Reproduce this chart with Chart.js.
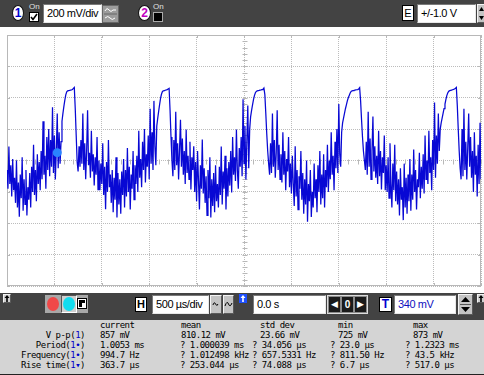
<!DOCTYPE html>
<html>
<head>
<meta charset="utf-8">
<script src="https://cdn.jsdelivr.net/npm/chart.js@4.4.1/dist/chart.umd.min.js"></script>
<style>
  body { margin: 0; width: 484px; height: 375px; overflow: hidden; background: #fff; position: relative; font-family: "Liberation Sans", Arial, sans-serif; }
  .a { position: absolute; box-sizing: border-box; }
  .bar { background: #434343; }
  .inp { background: #fff; border: 1px solid; border-color: #7a7a7a #e8e8e8 #e8e8e8 #7a7a7a; font-size: 11px; letter-spacing: -0.4px; line-height: 17px; padding-left: 3px; white-space: nowrap; color: #000; }
  .btn { background: #c4c4c4; border: 1px solid; border-color: #f4f4f4 #5a5a5a #5a5a5a #f4f4f4; }
  .let { background: #fff; border: 1px solid #000; font-weight: bold; font-size: 11px; text-align: center; line-height: 13px; }
  .circ { background: #fff; border: 1px solid #111; border-radius: 50%; font-weight: bold; font-size: 12px; text-align: center; line-height: 14px; }
  .on { color: #e0e0e0; font-size: 8px; line-height: 8px; }
  #meas { font-family: "DejaVu Sans Mono", monospace; font-size: 9px; letter-spacing: -0.5px; line-height: 10px; color: #000; background: #d4d4d4; border-bottom: 1px solid #222; }
  #meas div { position: absolute; white-space: nowrap; }
  #meas b { color: #0000c8; font-weight: normal; }
  #wrap { position: absolute; left: 0; top: 0; width: 484px; height: 375px; }
</style>
</head>
<body>
<div id="wrap"><canvas id="scope"></canvas></div>

<!-- top bar -->
<div class="a bar" style="left:0;top:0;width:484px;height:27px"></div>
<div class="a circ" style="left:12px;top:5px;width:12px;height:16px;color:#0000d0">1</div>
<div class="a on" style="left:29px;top:3px">On</div>
<div class="a" style="left:29px;top:12px;width:10px;height:10px;background:#fff;border:1px solid #000">
  <svg width="8" height="8" style="display:block"><path d="M1 4 L3 6.5 L7 1" stroke="#000" stroke-width="1.6" fill="none"/></svg>
</div>
<div class="a inp" style="left:43px;top:4px;width:59px;height:19px">200 mV/div</div>
<div class="a" style="left:102px;top:5px;width:17px;height:18px;background:#9c9c9c;border:1px solid #666">
  <svg width="15" height="16" style="display:block"><path d="M2 5 Q4 1 6 4 T10 4 L13 4" stroke="#fff" fill="none"/><line x1="1" y1="8" x2="14" y2="8" stroke="#666"/><path d="M2 12 Q5 9 7 12 T12 12" stroke="#fff" fill="none"/></svg>
</div>
<div class="a circ" style="left:138px;top:5px;width:13px;height:16px;color:#c000c0">2</div>
<div class="a on" style="left:153px;top:3px">On</div>
<div class="a" style="left:153px;top:12px;width:10px;height:10px;background:#000;border:1px solid #aaa"></div>
<div class="a let" style="left:402px;top:5px;width:12px;height:16px;font-weight:normal;line-height:14px">E</div>
<div class="a inp" style="left:417px;top:4px;width:59px;height:19px">+/-1.0 V</div>
<div class="a btn" style="left:477px;top:4px;width:9px;height:19px">
  <svg width="7" height="17" style="display:block"><path d="M1 6 L3.5 2 L6 6 Z M1 11 L3.5 15 L6 11 Z" fill="#000"/></svg>
</div>

<!-- bottom toolbar -->
<div class="a bar" style="left:0;top:293px;width:484px;height:27px"></div>
<div class="a btn" style="left:3px;top:294px;width:8px;height:9px;background:#d0d0d0">
  <svg width="6" height="7" style="display:block"><path d="M3 0 L5.5 3 L3.8 3 L3.8 7 L2.2 7 L2.2 3 L0.5 3 Z" fill="#000"/></svg>
</div>
<div class="a" style="left:45px;top:295px;width:43px;height:18px;background:#a8a8a8"></div>
<div class="a" style="left:47px;top:297px;width:12px;height:14px;border-radius:50%;background:#f04848"></div>
<div class="a" style="left:61px;top:295px;width:16px;height:18px;background:#cfcfcf;border:1px solid;border-color:#555 #fff #fff #555"></div>
<div class="a" style="left:63px;top:297px;width:12px;height:14px;border-radius:50%;background:#12dcef"></div>
<div class="a" style="left:77px;top:298px;width:10px;height:11px;background:#fff;border:1px solid #000">
  <svg width="8" height="9" style="display:block"><path d="M1 1 L7 1 L7 4 L4 4 L4 8 L1 8 Z" fill="#000"/></svg>
</div>
<div class="a let" style="left:135px;top:297px;width:12px;height:15px">H</div>
<div class="a inp" style="left:152px;top:295px;width:57px;height:19px">500 µs/div</div>
<div class="a btn" style="left:210px;top:295px;width:12px;height:19px">
  <svg width="10" height="17" style="display:block"><path d="M2 9 Q3 5 4.5 8 T7 8" stroke="#000" fill="none"/></svg>
</div>
<div class="a btn" style="left:223px;top:295px;width:11px;height:19px">
  <svg width="9" height="17" style="display:block"><path d="M1 10 Q3 4 4.5 8 T8 7" stroke="#000" fill="none"/></svg>
</div>
<div class="a" style="left:239px;top:294px;width:8px;height:9px;background:#1e50ff">
  <svg width="8" height="9" style="display:block"><path d="M4 1 L6.5 4 L4.8 4 L4.8 8 L3.2 8 L3.2 4 L1.5 4 Z" fill="#fff"/></svg>
</div>
<div class="a inp" style="left:253px;top:295px;width:73px;height:19px">0.0 s</div>
<div class="a" style="left:327px;top:295px;width:41px;height:19px;background:#8a8a8a;border:1px solid #ddd"></div>
<div class="a" style="left:329px;top:297px;width:11px;height:15px;background:#1a1a1a;color:#fff;font-size:9px;text-align:center;line-height:15px">◀</div>
<div class="a" style="left:342px;top:297px;width:11px;height:15px;background:#1a1a1a;color:#fff;font-size:10px;font-weight:bold;text-align:center;line-height:15px">0</div>
<div class="a" style="left:355px;top:297px;width:11px;height:15px;background:#1a1a1a;color:#fff;font-size:9px;text-align:center;line-height:15px">▶</div>
<div class="a let" style="left:379px;top:297px;width:13px;height:15px;color:#0000d0;font-size:12px">T</div>
<div class="a inp" style="left:394px;top:295px;width:62px;height:19px;color:#1010c0">340 mV</div>
<div class="a btn" style="left:458px;top:294px;width:15px;height:21px">
  <svg width="13" height="19" style="display:block"><path d="M2 7 L6.5 2 L11 7 Z M2 12 L6.5 17 L11 12 Z" fill="#000"/><line x1="1" y1="9.5" x2="12" y2="9.5" stroke="#555"/></svg>
</div>
<div class="a btn" style="left:477px;top:294px;width:8px;height:9px;background:#d0d0d0">
  <svg width="6" height="7" style="display:block"><path d="M3 0 L5.5 3 L3.8 3 L3.8 7 L2.2 7 L2.2 3 L0.5 3 Z" fill="#000"/></svg>
</div>

<!-- measurements -->
<div id="meas" class="a" style="left:0;top:320px;width:484px;height:55px"></div>

<script>
// === DATA ===
// channel 1 trace, one sample every 10 µs from -2.5 ms (mV)
const sampleStartMs = -2.5;
const sampleStepMs = 0.01;
const traceMv = [
  // noise before first bump
  -60, -180, 89, -150, -30, -230, 10, -190,
  -110, -270, 0, -300, -140, -358, -90, -240, 20, -320, -120, -280, -60, -350, -170, -250, -80,
  -300, -40, -200, 100, -220, -60, -260, 40, -150, -10, -190,
  60, -120, 250, -90, 30, -180, 150, -60, 200, -100,
  130, -40, 340, -80, 160, -121, 60, 300, -50, 180, -20, 120,
  // bump 1
  250, 300, 345, 385, 418, 438, 444, 446, 447, 449, 450, 452, 460, 466, 330, 160, -10, -70,
  // noise
  90, -40, 130, -20, 300, -60, 110, -120, 60, 320, -30,
  50, -110, 190, -70, 40, -160, 20, -90, 150, -185, 0,
  -190, -20, -150, 110, -220, -40, -310, -10, -200, 130, -170,
  -90, -270, -60, -330, -110, -250, 20, -364, -80, -280, -120, -340, -70, -220, 10, -300,
  -60, -230, 80, -200, -40, -313, -90, -180, 60, -250, -30,
  -150, 30, -200, 190, -110, 10, -170, 120, -60, 200, -140,
  40, -40, 160, -120, 330, -20, 180, -60, 380, 90, -30, 220,
  // bump 2
  270, 315, 358, 398, 424, 440, 444, 446, 448, 450, 452, 456, 460, 320, 150, 0, -100,
  // noise
  130, -60, 310, -30, 110, -121, 70, 260, -40, 140, -90,
  60, -150, 198, -80, 30, -120, 120, -185, 20, -60, 90,
  -200, -10, -260, 60, -130, -313, -30, -180, 134, -210, -50,
  -270, -100, -350, -60, -240, 20, -364, -120, -290, -80, -330, -30, -260, -150, -300,
  -40, -220, 89, -280, -70, -180, 30, -313, -50, -230, -10,
  -160, 60, -204, 150, -90, 20, -130, 198, -60, -180, 80,
  -40, 150, -100, 390, -20, 220, -121, 120, 350, -50, 200,
  // bump 3
  280, 320, 355, 388, 414, 432, 440, 444, 446, 447, 449, 450, 452, 455, 462, 420, 300, 170, 60, -20, -90,
  // noise
  110, -80, 300, -40, 130, -110, 50, 320, -60, 100, -121,
  40, -140, 180, -90, 60, -190, 10, -70, 150, -170, -20,
  -210, 30, -150, -290, 90, -230, -60, -313, -100, -180, 60,
  -250, -80, -340, -120, -280, 0, -390, -150, -260, -60, -360, -200, -300, -20, -240,
  -120, -330, -30, -200, 60, -280, -90, -240, 40, -300, -60,
  -170, 100, -200, 0, -120, 180, -90, 30, -190, 120, -50,
  200, -80, 360, 40, -40, 180,
  // bump 4
  240, 270, 300, 330, 355, 380, 400, 415, 430, 440, 444, 446, 447, 449, 450, 451, 452, 456, 464, 380, 260, 150, 60, 0, -60,
  // noise
  120, -90, 310, -40, 140, -121, 60, 280, -70, 90, -110,
  30, -150, 190, -100, 60, -185, 20, -80, 160, -190, -30,
  -200, 20, -240, 110, -150, -300, -20, -190, 100, -260, -70,
  -280, -120, -350, -50, -250, -170, -380, -20, -300, -110, -340, -90, -260, 10, -320,
  -90, -250, 70, -200, -60, -313, -120, -170, 50, -240, -40,
  -180, 40, -210, 160, -120, 0, -150, 190, -80, 20, -190,
  130, -60, 370, -110, 160, -20, 300, 60, 200,
  // bump 5
  240, 270, 300, 330, 360, 390, 415, 432, 441, 445, 447, 449, 451, 453, 456, 460, 466, 350, 200, 60, -50, -120,
  // noise to the right edge
  200, -100, 330, -60, 120, -121, 80, 300, -40, 150, -110,
  60, -200, 180, -90, 30, -230, 100, -150, 240, -120
];

// cursor marker on the trace
const markerMs = [-1.97];
const markerMv = [50];

// screen: 10 x 500 µs/div, 8 x 200 mV/div
const timeMinMs = -2.5, timeMaxMs = 2.5, timeDivMs = 0.5;
const voltMinMv = -800, voltMaxMv = 800, voltDivMv = 200;

// measurement table
const measCols = ["current", "mean", "std dev", "min", "max"];
const measNames = ["V p-p", "Period", "Frequency", "Rise time"];
const measMarks = ["", "•", "•", "▾"];
const measCurrent = ["857 mV", "1.0053 ms", "994.7 Hz", "363.7 µs"];
const measMean = ["810.12 mV", "? 1.000039 ms", "? 1.012498 kHz", "? 253.044 µs"];
const measStd = ["23.66 mV", "? 34.056 µs", "? 657.5331 Hz", "? 74.088 µs"];
const measMin = ["725 mV", "? 23.0 µs", "? 811.50 Hz", "? 6.7 µs"];
const measMax = ["873 mV", "? 1.2323 ms", "? 43.5 kHz", "? 517.0 µs"];

// === measurement panel ===
const meas = document.getElementById("meas");
const colX = [100, 181, 260, 338, 413];
const qColX = [100, 180, 252, 330, 405];

function cell(x, row, html, right) {
  const d = document.createElement("div");
  d.style.top = (row * 10) + "px";
  if (right) d.style.right = (484 - x) + "px";
  else d.style.left = x + "px";
  d.innerHTML = html;
  meas.appendChild(d);
}

measCols.forEach((c, i) => cell(colX[i], 0, c));
measNames.forEach((n, r) => {
  cell(85, r + 1, `${n}(<b>1${measMarks[r]}</b>)`, true);
  [measCurrent, measMean, measStd, measMin, measMax].forEach((col, i) => {
    const txt = col[r];
    cell(txt.startsWith("?") ? qColX[i] : colX[i], r + 1, txt);
  });
});

// === scope screen decorations ===
const screenFrame = {
  id: "screenFrame",
  beforeDatasetsDraw(chart) {
    const { ctx, chartArea: a, scales: { x, y } } = chart;
    ctx.save();
    ctx.strokeStyle = "#b8b8b8";
    ctx.lineWidth = 1;
    ctx.strokeRect(a.left + 0.5, a.top + 0.5, a.right - a.left - 1, a.bottom - a.top - 1);

    const cx = Math.round(x.getPixelForValue(0)) + 0.5;
    const cy = Math.round(y.getPixelForValue(0)) + 0.5;
    ctx.beginPath();
    for (let k = 0; k <= 50; k++) {
      const px = Math.round(x.getPixelForValue(timeMinMs + k * timeDivMs / 5)) + 0.5;
      ctx.moveTo(px, cy - 2); ctx.lineTo(px, cy + 3);
      if (k % 5 === 0) {
        ctx.moveTo(px, a.top); ctx.lineTo(px, a.top + 3);
        ctx.moveTo(px, a.bottom); ctx.lineTo(px, a.bottom - 3);
      }
    }
    for (let k = 0; k <= 40; k++) {
      const py = Math.round(y.getPixelForValue(voltMinMv + k * voltDivMv / 5)) + 0.5;
      ctx.moveTo(cx - 2, py); ctx.lineTo(cx + 3, py);
      if (k % 5 === 0) {
        ctx.moveTo(a.left, py); ctx.lineTo(a.left + 3, py);
        ctx.moveTo(a.right, py); ctx.lineTo(a.right - 3, py);
      }
    }
    ctx.stroke();
    ctx.restore();
  }
};

// === chart ===
const tracePoints = traceMv.map((v, i) => ({ x: sampleStartMs + i * sampleStepMs, y: v }));
const markerPoints = markerMs.map((t, i) => ({ x: t, y: markerMv[i] }));

new Chart(document.getElementById("scope"), {
  type: "line",
  data: {
    datasets: [
      { data: markerPoints, showLine: false, pointRadius: 4.5, pointBackgroundColor: "#2a84ff", pointBorderWidth: 0 },
      { data: tracePoints, borderColor: "#0808d4", borderWidth: 1.25, pointRadius: 0, tension: 0 }
    ]
  },
  options: {
    responsive: true,
    maintainAspectRatio: false,
    animation: false,
    events: [],
    layout: { autoPadding: false, padding: { left: 7, top: 35, right: 3, bottom: 89 } },
    plugins: { legend: { display: false }, tooltip: { enabled: false } },
    scales: {
      x: {
        type: "linear", min: timeMinMs, max: timeMaxMs,
        ticks: { display: false, stepSize: timeDivMs },
        grid: { color: "#bcbcbc", drawTicks: false },
        border: { display: false, dash: [1, 1] }
      },
      y: {
        type: "linear", min: voltMinMv, max: voltMaxMv,
        ticks: { display: false, stepSize: voltDivMv },
        grid: { color: "#bcbcbc", drawTicks: false },
        border: { display: false, dash: [1, 1] }
      }
    }
  },
  plugins: [screenFrame]
});
</script>
</body>
</html>
